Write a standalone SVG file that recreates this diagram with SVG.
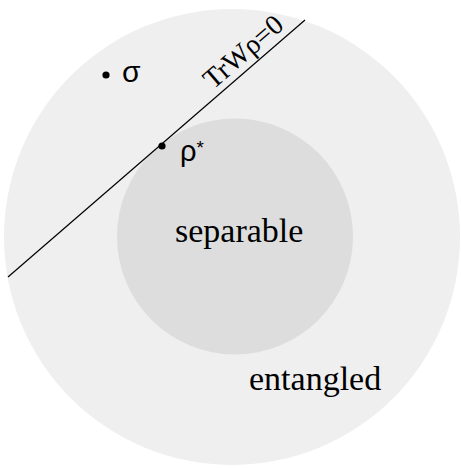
<svg xmlns="http://www.w3.org/2000/svg" width="461" height="468" viewBox="0 0 461 468">
<style>
.serif{font-family:"Liberation Serif","Times New Roman",serif;fill:#000}
.sans{font-family:"Liberation Sans",Arial,sans-serif;fill:#000}
</style>
<rect width="461" height="468" fill="#fff"/>
<g id="entangled">
<circle cx="232" cy="237" r="228" fill="#efefef"/>
<text class="serif" x="249" y="390" font-size="34">entangled</text>
</g>
<g id="separable">
<circle cx="235" cy="236.5" r="118" fill="#dddddd"/>
<text class="serif" x="175" y="242" font-size="34">separable</text>
</g>
<g id="connectors">
<line x1="8" y1="277" x2="305" y2="20" stroke="#000" stroke-width="1.2"/>
<text class="serif" font-size="28" transform="translate(213,90) rotate(-40.9)">TrWρ=0</text>
</g>
<g id="sigma">
<circle cx="106" cy="75" r="3.6" fill="#000"/>
<text class="sans" x="122" y="82" font-size="30">σ</text>
</g>
<g id="rhostar">
<circle cx="162" cy="146" r="3.6" fill="#000"/>
<text class="sans" x="180" y="161" font-size="29">ρ<tspan font-size="19" dy="-7">*</tspan></text>
</g>
</svg>
